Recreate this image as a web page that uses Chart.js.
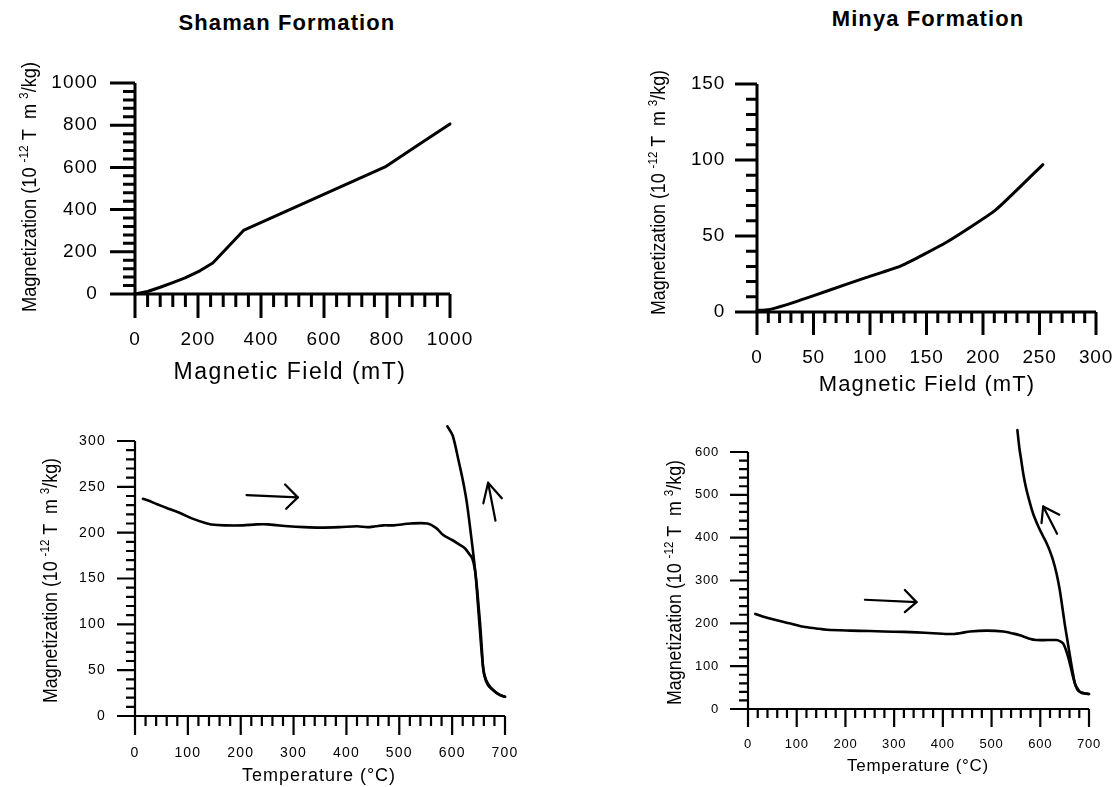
<!DOCTYPE html>
<html><head><meta charset="utf-8">
<script src="https://cdn.jsdelivr.net/npm/chart.js@4/dist/chart.umd.min.js"></script>
<style>
html,body{margin:0;padding:0;background:#fff;}
body{position:relative;width:1116px;height:787px;overflow:hidden;}
canvas{position:absolute;}
.ptitle{position:absolute;font-family:'Liberation Sans',Arial,Helvetica,sans-serif;font-weight:bold;font-size:22px;line-height:22px;letter-spacing:1.1px;color:#000;white-space:nowrap;text-align:center;width:300px;}
</style></head>
<body>
<div class="ptitle" style="left:137px;top:12px;">Shaman Formation</div>
<div class="ptitle" style="left:778px;top:8px;">Minya Formation</div>
<canvas id="c1" width="560" height="405" style="left:0;top:0"></canvas>
<canvas id="c2" width="556" height="405" style="left:560px;top:0"></canvas>
<canvas id="c3" width="580" height="382" style="left:0;top:405px"></canvas>
<canvas id="c4" width="536" height="382" style="left:580px;top:405px"></canvas>
<script>
const FONT = "'Liberation Sans', Arial, Helvetica, sans-serif";

// ---- Shaman Formation: IRM acquisition ----
const shamanIrmField = [0, 40, 80, 122, 159, 206, 247, 346, 794, 900, 1000];
const shamanIrmMag   = [0, 12, 32, 55, 76, 110, 147, 303, 602, 707, 806];
const shamanFieldTicks = [0, 200, 400, 600, 800, 1000];
const shamanIrmTicks   = [0, 200, 400, 600, 800, 1000];

// ---- Minya Formation: IRM acquisition ----
const minyaIrmField = [0, 10, 25, 41, 62, 97, 128, 168, 211, 253];
const minyaIrmMag   = [1, 1.5, 4.5, 8.5, 13.8, 22.8, 30.5, 46, 67, 97];
const minyaFieldTicks = [0, 50, 100, 150, 200, 250, 300];
const minyaIrmTicks   = [0, 50, 100, 150];

// ---- Shaman Formation: thermomagnetic curves ----
const shamanHeatT = [15,25,42,60,83,110,130,144,170,204,230,252,290,320,350,387,420,440,455,470,489,522,553,570,580,587,600,611,624,632,638,643,647,650,653,656,659,664,670,680,690,700];
const shamanHeatM = [237,235,231,227,222,215,211,209,208,208,209,209,207,206,205.5,206,207,206,207,208,208,210,210,205,199,196,192,188,183,177,172,160,140,120,100,75,50,38,32,27,23,21];
const shamanCoolT = [591,601,612,621,628,636,641,645,649,653,657,661,668,680,690,700];
const shamanCoolM = [316,306,279,255,232,196,172,150,120,90,62,45,35,27,23,21];
const shamanTempTicks = [0, 100, 200, 300, 400, 500, 600, 700];
const shamanTempMagTicks = [0, 50, 100, 150, 200, 250, 300];
const shamanArrowHeatT = [211, 308];
const shamanArrowHeatM = [241, 238.5];
const shamanArrowHeatHeadT = [284, 308, 286];
const shamanArrowHeatHeadM = [252.6, 238.5, 226];
const shamanArrowCoolT = [682, 668];
const shamanArrowCoolM = [213, 254.5];
const shamanArrowCoolHeadT = [659, 668, 694];
const shamanArrowCoolHeadM = [232, 254.5, 237.5];

// ---- Minya Formation: thermomagnetic curves ----
const minyaHeatT = [15,30,59,85,114,140,162,210,250,278,320,346,380,415,435,456,490,524,545,558,578,592,615,633,641,647,652,657,662,667,671,674,680,684,692,700];
const minyaHeatM = [222,216,207,200,192,188,185,183,182,181,180,179,177,175,177,181,183,181,176,172,164,161,161,161,158,153,140,122,100,76,60,52,42,38,36,35];
const minyaCoolT = [553,557,561,565,570,575,585,596,605,613,620,626,633,640,645,650,655,660,666,671,676,681,690,700];
const minyaCoolM = [651,610,580,550,520,497,457,426,405,387,368,348,318,278,240,200,165,130,90,60,45,40,37,35];
const minyaTempTicks = [0, 100, 200, 300, 400, 500, 600, 700];
const minyaTempMagTicks = [0, 100, 200, 300, 400, 500, 600];
const minyaArrowHeatT = [240, 346];
const minyaArrowHeatM = [255, 249.5];
const minyaArrowHeatHeadT = [322, 346, 322];
const minyaArrowHeatHeadM = [278, 249.5, 226];
const minyaArrowCoolT = [634.5, 606];
const minyaArrowCoolM = [409, 473];
const minyaArrowCoolHeadT = [602.5, 606, 639];
const minyaArrowCoolHeadM = [434, 473, 453.6];

const fieldTitle = 'Magnetic Field (mT)';
const tempTitle = 'Temperature (\u00B0C)';
const magTitleParts = [
  {t: 'Magnetization (10 ', sup: false},
  {t: '-12', sup: true},
  {t: ' T  m ', sup: false},
  {t: '3', sup: true},
  {t: '/kg)', sup: false}
];

function pts(xs, ys) { return xs.map((x, i) => ({x: x, y: ys[i]})); }
function ds(xs, ys, w, tension) {
  return {data: pts(xs, ys), showLine: true, borderColor: '#000', backgroundColor: '#000',
    borderWidth: w, pointRadius: 0, pointHoverRadius: 0, fill: false, clip: false,
    tension: tension || 0, borderCapStyle: 'round', borderJoinStyle: 'round'};
}

function makePlugin(cfg) {
  return {
    id: 'axesDeco',
    beforeDraw(chart) { chart.ctx.letterSpacing = cfg.tickSpacing + 'px'; },
    beforeDatasetsDraw(chart) {
      const ctx = chart.ctx, xs = chart.scales.x, ys = chart.scales.y;
      const {left, right, top, bottom} = chart.chartArea;
      ctx.save();
      ctx.strokeStyle = '#000'; ctx.lineWidth = cfg.lw; ctx.lineCap = 'butt';
      ctx.beginPath();
      ctx.moveTo(left, bottom); ctx.lineTo(right, bottom);
      ctx.moveTo(left, bottom); ctx.lineTo(left, top);
      const isMajor = (arr, v) => arr.some(m => Math.abs(m - v) < 1e-6);
      for (let v = cfg.xMin; v <= cfg.xMax + 1e-9; v += cfg.xMinor) {
        const px = xs.getPixelForValue(v);
        ctx.moveTo(px, bottom);
        ctx.lineTo(px, bottom + (isMajor(cfg.xTicks, v) ? cfg.xMajLen : cfg.xMinLen));
      }
      for (let v = cfg.yMin; v <= cfg.yMax + 1e-9; v += cfg.yMinor) {
        const py = ys.getPixelForValue(v);
        ctx.moveTo(left, py);
        ctx.lineTo(left - (isMajor(cfg.yTicks, v) ? cfg.yMajLen : cfg.yMinLen), py);
      }
      ctx.stroke();
      ctx.restore();
    },
    afterDraw(chart) {
      const ctx = chart.ctx;
      ctx.save();
      ctx.letterSpacing = cfg.xTitle.spacing + 'px';
      ctx.font = cfg.xTitle.size + 'px ' + FONT;
      ctx.fillStyle = '#000';
      ctx.textAlign = 'center';
      ctx.textBaseline = 'alphabetic';
      ctx.fillText(cfg.xTitle.text, cfg.xTitle.cx - cfg.ox, cfg.xTitle.base - cfg.oy);
      ctx.restore();
      const yt = cfg.yTitle;
      ctx.save();
      ctx.letterSpacing = '0px';
      ctx.fillStyle = '#000';
      ctx.textBaseline = 'alphabetic';
      ctx.textAlign = 'left';
      const mainFont = yt.size + 'px ' + FONT, supFont = yt.sup + 'px ' + FONT;
      let total = 0;
      const widths = magTitleParts.map(p => { ctx.font = p.sup ? supFont : mainFont; const w = ctx.measureText(p.t).width; total += w; return w; });
      ctx.translate(yt.x - cfg.ox, yt.y0 - cfg.oy);
      ctx.rotate(-Math.PI / 2);
      ctx.scale(yt.len / total, 1);
      let cx = 0;
      magTitleParts.forEach((p, i) => {
        ctx.font = p.sup ? supFont : mainFont;
        ctx.fillText(p.t, cx, p.sup ? -yt.rise : 0);
        cx += widths[i];
      });
      ctx.restore();
    }
  };
}

function buildPanel(cfg) {
  const canvas = document.getElementById(cfg.canvas);
  const cw = canvas.width, ch = canvas.height;
  const l = cfg.area.left - cfg.ox, t = cfg.area.top - cfg.oy, r = cfg.area.right - cfg.ox, b = cfg.area.bottom - cfg.oy;
  const tickFont = {family: FONT, size: cfg.tickFont};
  new Chart(canvas, {
    type: 'scatter',
    data: {datasets: cfg.datasets},
    options: {
      responsive: false, maintainAspectRatio: false, animation: false, events: [],
      layout: {padding: {left: 0, top: t, right: cw - r, bottom: 0}, autoPadding: false},
      plugins: {legend: {display: false}, tooltip: {enabled: false}, title: {display: false}},
      scales: {
        x: {
          type: 'linear', position: 'bottom', min: cfg.xMin, max: cfg.xMax,
          afterFit: s => { s.height = ch - b; s.paddingLeft = 0; s.paddingRight = 0; },
          afterBuildTicks: s => { s.ticks = cfg.xTicks.map(v => ({value: v})); },
          grid: {display: false, drawTicks: false, tickLength: 0},
          border: {display: false},
          ticks: {autoSkip: false, maxRotation: 0, minRotation: 0, padding: cfg.xPad, color: '#000', font: tickFont, callback: v => String(v)},
          title: {display: false}
        },
        y: {
          type: 'linear', position: 'left', min: cfg.yMin, max: cfg.yMax,
          afterFit: s => { s.width = l; s.paddingTop = 0; s.paddingBottom = 0; },
          afterBuildTicks: s => { s.ticks = cfg.yTicks.map(v => ({value: v})); },
          grid: {display: false, drawTicks: false, tickLength: 0},
          border: {display: false},
          ticks: {autoSkip: false, padding: cfg.yPad, color: '#000', font: tickFont, callback: v => String(v)},
          title: {display: false}
        }
      }
    },
    plugins: [makePlugin(cfg)]
  });
}

buildPanel({
  canvas: 'c1', ox: 0, oy: 0, area: {left: 135, top: 83, right: 450, bottom: 294},
  xMin: 0, xMax: 1000, yMin: 0, yMax: 1000, xTicks: shamanFieldTicks, yTicks: shamanIrmTicks, xMinor: 40, yMinor: 40,
  lw: 3, yMajLen: 25, yMinLen: 12, xMajLen: 24, xMinLen: 13,
  tickFont: 19, tickSpacing: 1.1, yPad: 37, xPad: 34,
  xTitle: {text: fieldTitle, size: 23, spacing: 1.5, cx: 290, base: 379},
  yTitle: {x: 36, y0: 312, len: 250, size: 20, sup: 13, rise: 8},
  datasets: [ds(shamanIrmField, shamanIrmMag, 3, 0)]
});

buildPanel({
  canvas: 'c2', ox: 560, oy: 0, area: {left: 757, top: 84, right: 1096, bottom: 312},
  xMin: 0, xMax: 300, yMin: 0, yMax: 150, xTicks: minyaFieldTicks, yTicks: minyaIrmTicks, xMinor: 10, yMinor: 10,
  lw: 3, yMajLen: 22, yMinLen: 11, xMajLen: 23, xMinLen: 11,
  tickFont: 19, tickSpacing: 0.8, yPad: 32, xPad: 34,
  xTitle: {text: fieldTitle, size: 22, spacing: 1.1, cx: 927, base: 391},
  yTitle: {x: 665, y0: 315, len: 245, size: 20, sup: 13, rise: 8},
  datasets: [ds(minyaIrmField, minyaIrmMag, 3, 0.15)]
});

buildPanel({
  canvas: 'c3', ox: 0, oy: 405, area: {left: 135, top: 441, right: 505, bottom: 716},
  xMin: 0, xMax: 700, yMin: 0, yMax: 300, xTicks: shamanTempTicks, yTicks: shamanTempMagTicks, xMinor: 20, yMinor: 10,
  lw: 2.2, yMajLen: 18, yMinLen: 9, xMajLen: 19, xMinLen: 10,
  tickFont: 14, tickSpacing: 1.2, yPad: 29, xPad: 29,
  xTitle: {text: tempTitle, size: 18, spacing: 1, cx: 319, base: 781},
  yTitle: {x: 57, y0: 703, len: 245, size: 20, sup: 13, rise: 8},
  datasets: [
    ds(shamanHeatT, shamanHeatM, 2.6, 0.3),
    ds(shamanCoolT, shamanCoolM, 2.6, 0.3),
    ds(shamanArrowHeatT, shamanArrowHeatM, 2.2, 0),
    ds(shamanArrowHeatHeadT, shamanArrowHeatHeadM, 2.2, 0),
    ds(shamanArrowCoolT, shamanArrowCoolM, 2.2, 0),
    ds(shamanArrowCoolHeadT, shamanArrowCoolHeadM, 2.2, 0)
  ]
});

buildPanel({
  canvas: 'c4', ox: 580, oy: 405, area: {left: 748, top: 452, right: 1089, bottom: 709},
  xMin: 0, xMax: 700, yMin: 0, yMax: 600, xTicks: minyaTempTicks, yTicks: minyaTempMagTicks, xMinor: 20, yMinor: 20,
  lw: 2.2, yMajLen: 18, yMinLen: 9, xMajLen: 18, xMinLen: 9,
  tickFont: 13, tickSpacing: 0.8, yPad: 29, xPad: 28,
  xTitle: {text: tempTitle, size: 17, spacing: 0.7, cx: 918, base: 771},
  yTitle: {x: 681, y0: 705, len: 245, size: 20, sup: 13, rise: 8},
  datasets: [
    ds(minyaHeatT, minyaHeatM, 2.6, 0.3),
    ds(minyaCoolT, minyaCoolM, 2.6, 0.3),
    ds(minyaArrowHeatT, minyaArrowHeatM, 2.2, 0),
    ds(minyaArrowHeatHeadT, minyaArrowHeatHeadM, 2.2, 0),
    ds(minyaArrowCoolT, minyaArrowCoolM, 2.2, 0),
    ds(minyaArrowCoolHeadT, minyaArrowCoolHeadM, 2.2, 0)
  ]
});
</script>
</body></html>
